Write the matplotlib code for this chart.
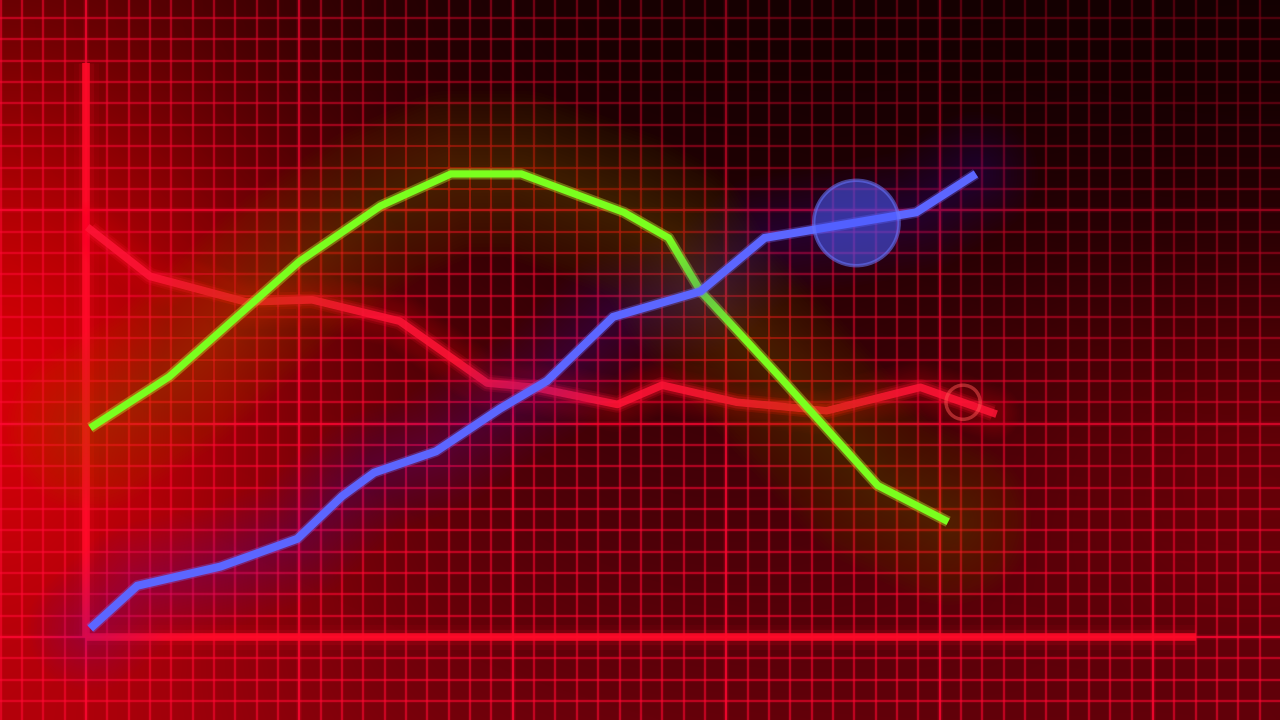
import numpy as np
import matplotlib.pyplot as plt
from matplotlib.patches import Circle

# values in grid cells (one small square = 1), origin at the axis corner
red_x = [0.2, 3.0, 7.5, 10.6, 14.7, 18.8, 21.0, 24.9, 27.0, 30.5, 34.7, 39.1, 42.5]
red_y = [19.1, 16.9, 15.7, 15.8, 14.8, 11.9, 11.7, 10.9, 11.8, 11.0, 10.6, 11.7, 10.5]

green_x = [0.2, 3.9, 10.0, 13.8, 17.1, 20.4, 25.2, 27.3, 28.8, 32.5, 37.1, 40.4]
green_y = [9.8, 12.2, 17.6, 20.2, 21.7, 21.7, 19.9, 18.7, 16.2, 12.2, 7.1, 5.4]

blue_x = [0.2, 2.4, 6.3, 9.9, 12.0, 13.5, 16.4, 19.4, 21.6, 24.7, 28.8, 31.8, 38.9, 41.7]
blue_y = [0.4, 2.4, 3.3, 4.6, 6.6, 7.7, 8.7, 10.7, 12.0, 15.0, 16.2, 18.7, 19.9, 21.7]

blue_dot = (36.1, 19.4, 2.0)   # x, y, radius
red_ring = (41.1, 11.0, 0.8)

x_min, x_max = -4.03, 55.95
y_min, y_max = -3.89, 29.85
axis_top = 26.9
axis_right = 52.0

fig = plt.figure(figsize=(12.8, 7.2), dpi=100)
ax = fig.add_axes([0, 0, 1, 1])
ax.set_xlim(x_min, x_max)
ax.set_ylim(y_min, y_max)
ax.axis('off')
ext = [x_min, x_max, y_min, y_max]

# background: dark red, brighter to the left and bottom
H, W = 360, 640
u = np.linspace(0, 1, W)[None, :]
v = np.linspace(0, 1, H)[:, None]
r = (30 + 110 * np.exp(-(u / 0.26) ** 2 - ((v - 0.45) / 0.45) ** 2)
     + 40 * np.exp(-(u / 0.26) ** 2)
     + 85 * v ** 1.5 * (1 - 0.3 * u)
     + 50 * np.exp(-((u - 1) / 0.25) ** 2 - ((v - 0.6) / 0.3) ** 2))
g = 0 * r
b = 3 + 8 * v + 0 * u
bg = np.clip(np.dstack([r, g, b]) / 255, 0, 1)
ax.imshow(bg, extent=ext, aspect='auto', zorder=0, interpolation='bilinear')

# grid
minor = np.arange(np.ceil(x_min), x_max, 1)
minor_y = np.arange(np.ceil(y_min), y_max, 1)
grid_col = '#ff0832'
for xv in minor:
    major = int(round(xv)) % 10 == 0
    ax.axvline(xv, color=grid_col, lw=4 if major else 3, alpha=0.12, zorder=1)
    ax.axvline(xv, color=grid_col, lw=1.7 if major else 1.1, alpha=0.85 if major else 0.68, zorder=1)
for yv in minor_y:
    major = int(round(yv)) % 10 == 0
    ax.axhline(yv, color=grid_col, lw=4 if major else 3, alpha=0.12, zorder=1)
    ax.axhline(yv, color=grid_col, lw=1.7 if major else 1.1, alpha=0.85 if major else 0.68, zorder=1)

# shade over the grid: darker towards the top right
shade = (0.55 * np.exp(-((u - 1) / 0.5) ** 2 - (v / 0.5) ** 2)
         + 0.2 * np.exp(-((u - 0.45) / 0.3) ** 2 - (v / 0.3) ** 2))
shade = np.clip(shade, 0, 0.65)
ov = np.dstack([0 * shade + 0.05, 0 * shade, 0 * shade, shade])
ax.imshow(ov, extent=ext, aspect='auto', zorder=1.5, interpolation='bilinear')

# main axes
for lw, a in [(18, 0.06), (11, 0.12), (5.5, 0.9)]:
    ax.plot([0, 0], [0, axis_top], color='#ff0a28', lw=lw, alpha=a, zorder=2,
            solid_capstyle='butt')
    ax.plot([0, axis_right], [0, 0], color='#ff0a28', lw=lw, alpha=a, zorder=2,
            solid_capstyle='butt')


def glow(xs, ys, halo, w_max, a_each, n, z):
    for lw in np.linspace(w_max, 8, n):
        ax.plot(xs, ys, color=halo, lw=lw, alpha=a_each, zorder=z,
                solid_capstyle='round', solid_joinstyle='round')


# red line, soft
glow(red_x, red_y, '#ff0024', 40, 0.02, 14, 3)
for lw, a in [(12, 0.15), (9, 0.25)]:
    ax.plot(red_x, red_y, color='#ff1030', lw=lw, alpha=a, zorder=3.2,
            solid_capstyle='butt', solid_joinstyle='round')
ax.plot(red_x, red_y, color='#ff1436', lw=5.5, alpha=0.85, zorder=3.5,
        solid_joinstyle='round')
ax.add_patch(Circle(red_ring[:2], red_ring[2], fill=False, ec='#ff5050', lw=2.5,
                    alpha=0.5, zorder=4))

# green line
glow(green_x, green_y, '#9ab400', 120, 0.013, 24, 5)
ax.plot(green_x, green_y, color='#c8ff30', lw=8, alpha=0.35, zorder=5.3,
        solid_capstyle='butt', solid_joinstyle='round')
ax.plot(green_x, green_y, color='#7aff1e', lw=5.2, zorder=5.5,
        solid_capstyle='butt', solid_joinstyle='miter')

# blue line
glow(blue_x, blue_y, '#5a20ff', 90, 0.012, 20, 7)
ax.plot(blue_x, blue_y, color='#7a70ff', lw=8, alpha=0.3, zorder=7.3,
        solid_capstyle='butt', solid_joinstyle='round')
ax.plot(blue_x, blue_y, color='#5c66ff', lw=5.8, zorder=7.5,
        solid_capstyle='butt', solid_joinstyle='miter')
ax.add_patch(Circle(blue_dot[:2], blue_dot[2], fc='#4a5cff', ec='#6a78ff', lw=2.5,
                    alpha=0.55, zorder=8))

fig.savefig('out.png', dpi=100)
